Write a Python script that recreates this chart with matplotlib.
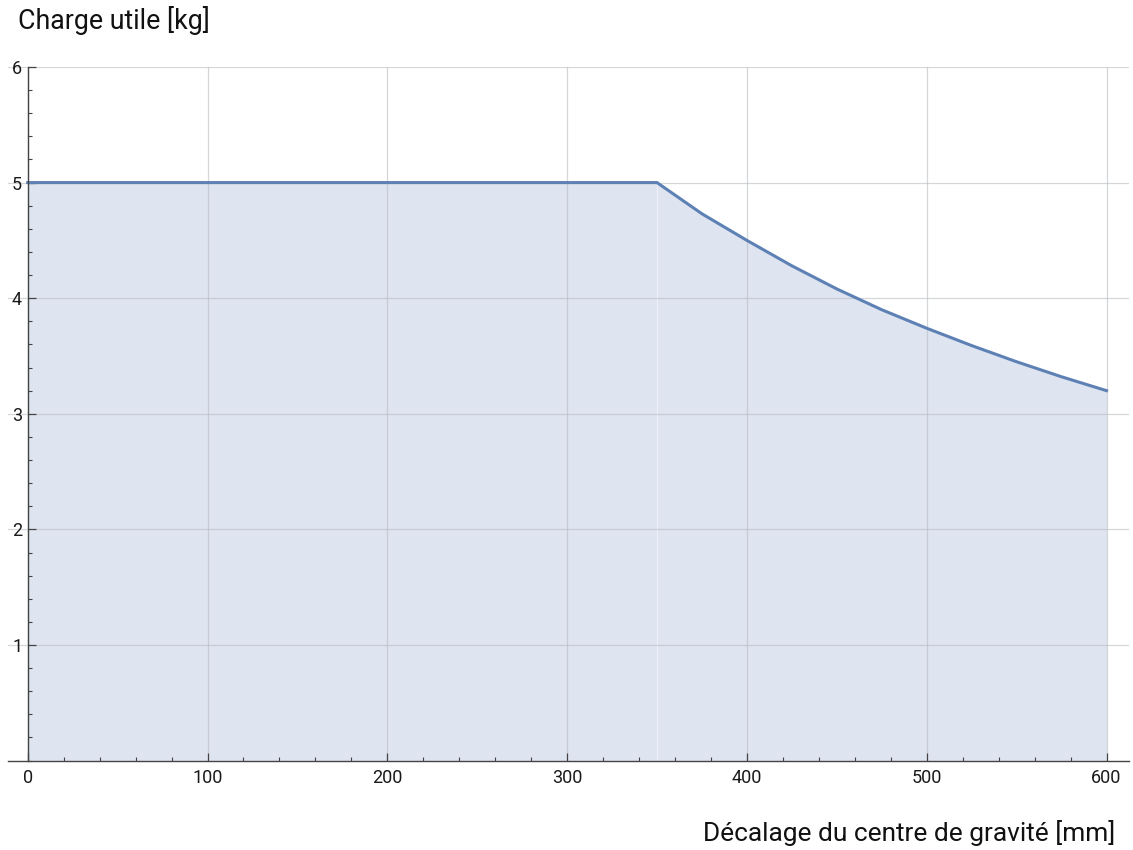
import matplotlib
matplotlib.use("Agg")
import matplotlib.pyplot as plt
from matplotlib.ticker import MultipleLocator

plt.rcParams["font.family"] = ["Roboto", "DejaVu Sans"]

# ── data ──────────────────────────────────────────────────────────────────
offset_mm = [0, 350, 375, 400, 425, 450, 475, 500, 525, 550, 575, 600]
payload_kg = [5.0, 5.0, 4.73, 4.50, 4.28, 4.08, 3.90, 3.74, 3.59, 3.45, 3.32, 3.20]
knee = 1  # index where the flat part ends

x_ticks = [0, 100, 200, 300, 400, 500, 600]
y_ticks = [1, 2, 3, 4, 5, 6]

LINE = "#5e81b5"
FILL = "#dee4f0"
GRID = "#b9bcc2"
AXIS = "#444444"

fig = plt.figure(figsize=(11.33, 8.5), dpi=100)
ax = fig.add_axes([0.00706, 0.1052, 0.9894, 0.8160])

# fill in two pieces (flat + falling), which leaves the faint seam at the knee
ax.fill_between(offset_mm[:knee + 1], payload_kg[:knee + 1], 0,
                color=FILL, lw=0, zorder=1)
ax.fill_between(offset_mm[knee:], payload_kg[knee:], 0,
                color=FILL, lw=0, zorder=1)
ax.plot(offset_mm, payload_kg, color=LINE, lw=2.2, zorder=3,
        solid_joinstyle="miter")

ax.set_xlim(-10.96, 612.5)
ax.set_ylim(0, 6)

# axes through the origin, Mathematica style
for s in ("top", "right"):
    ax.spines[s].set_visible(False)
ax.spines["left"].set_position(("data", 0))
ax.spines["bottom"].set_position(("data", 0))
ax.spines["left"].set_bounds(0, 6)
for s in ("left", "bottom"):
    ax.spines[s].set_color(AXIS)
    ax.spines[s].set_linewidth(1.0)
    ax.spines[s].set_zorder(4)

ax.set_xticks(x_ticks)
ax.set_yticks(y_ticks)
ax.xaxis.set_minor_locator(MultipleLocator(20))
ax.yaxis.set_minor_locator(MultipleLocator(0.2))
ax.tick_params(axis="both", which="major", direction="in", length=5.5,
               width=0.9, color=AXIS, labelsize=13, labelcolor="#1a1a1a")
ax.tick_params(axis="both", which="minor", direction="in", length=3,
               width=0.8, color=AXIS)
ax.tick_params(axis="x", which="major", pad=6)
ax.tick_params(axis="y", which="major", pad=4)

ax.grid(True, which="major", color=GRID, lw=0.9, alpha=0.6, zorder=2)
ax.set_axisbelow(False)
for gl in ax.get_xgridlines() + ax.get_ygridlines():
    gl.set_zorder(2)

fig.text(0.0159, 0.976, "Charge utile [kg]", fontsize=19.3,
         ha="left", va="center", color="#111111")
fig.text(0.984, 0.020, "Décalage du centre de gravité [mm]", fontsize=18.9,
         ha="right", va="center", color="#111111")

fig.savefig("out.png", dpi=100)
